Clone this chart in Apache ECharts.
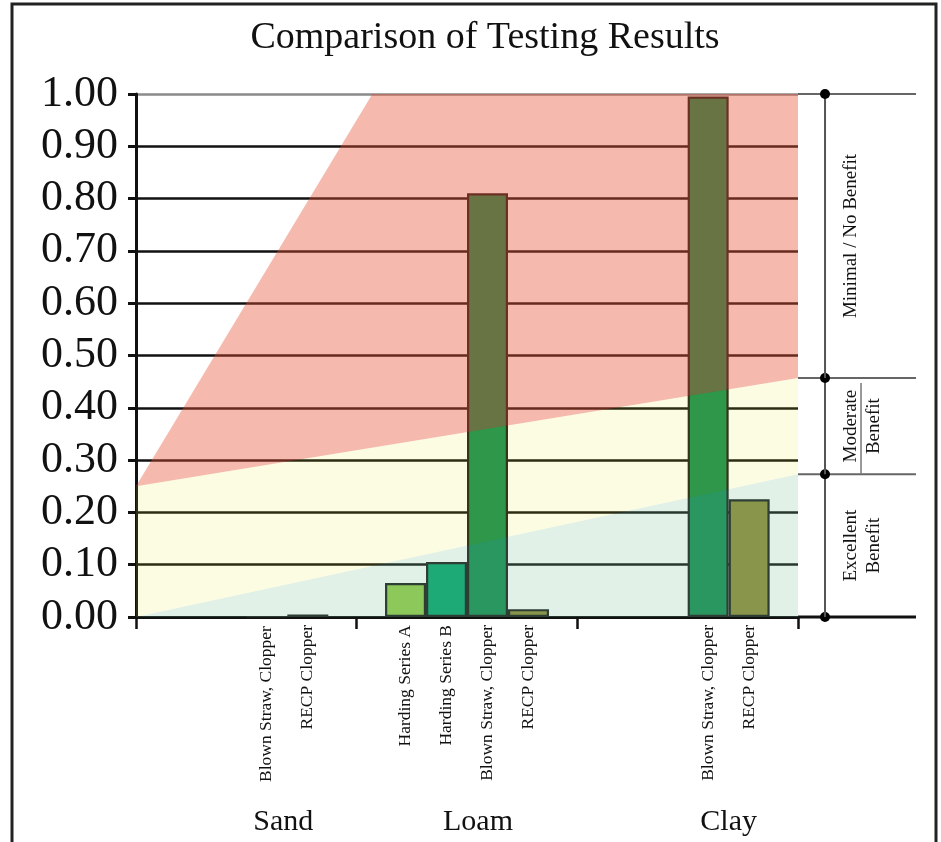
<!DOCTYPE html>
<html>
<head>
<meta charset="utf-8">
<script src="https://cdn.jsdelivr.net/npm/echarts@6/dist/echarts.min.js"></script>
<style>
html,body{margin:0;padding:0;background:#fff;}
#chart{width:941px;height:842px;}
</style>
</head>
<body>
<div id="chart"></div>
<script>
// ---- data ----
const categories = ['Sand', 'Loam', 'Clay'];
const seriesNames = ['Harding Series A', 'Harding Series B', 'Blown Straw, Clopper', 'RECP Clopper'];
const hardingA = ['-', 0.065, '-'];
const hardingB = ['-', 0.105, '-'];
const blownStraw = [0, 0.81, 0.995];
const recpClopper = [0.005, 0.015, 0.225];

// zone boundaries across the plot (x: 0 = left edge, 1 = right edge)
const plotBottom = [[0, 0], [1, 0]];
const excellentEdge = [[0, 0], [1, 0.273]];
const moderateEdge = [[0, 0.25], [1, 0.457]];
const minimalEdge = [[0, 0.25], [0.357, 1.0], [1, 1.0]];

// benefit scale on the right
const benefitBounds = [0, 0.273, 0.457, 1.0];
const benefitLabels = ['Excellent\nBenefit', 'Moderate\nBenefit', 'Minimal / No Benefit'];

// ---- build ----
const FONT = '"Liberation Serif", "Times New Roman", serif';
const zonePolys = [
  plotBottom.concat(excellentEdge.slice().reverse()),
  excellentEdge.concat(moderateEdge.slice().reverse()),
  moderateEdge.concat(minimalEdge.slice().reverse())
];
const zoneColors = ['rgba(120,190,150,0.22)', 'rgba(235,230,40,0.13)', 'rgba(232,80,50,0.40)'];
const barColors = ['#92cb49', '#05a46f', '#148c50', '#8f8a35'];
const catShift = [74, 22, 82];

function barSeries(name, data, color) {
  return {
    type: 'bar', name: name, data: data, xAxisIndex: 0, yAxisIndex: 0,
    barGap: '0%', barCategoryGap: '25.7%',
    itemStyle: { color: color, borderColor: '#1a1a1a', borderWidth: 2.2 },
    label: {
      show: true, position: 'bottom', distance: 8, rotate: 90,
      align: 'right', verticalAlign: 'middle',
      formatter: '{a}', fontFamily: FONT, fontSize: 17.5, color: '#111'
    },
    silent: true
  };
}

const chart = echarts.init(document.getElementById('chart'), null, { renderer: 'canvas' });
const option = {
  animation: false,
  backgroundColor: '#fff',
  title: {
    text: 'Comparison of Testing Results',
    left: 480, top: 14, textAlign: 'center',
    textStyle: { fontFamily: FONT, fontSize: 38, fontWeight: 'normal', color: '#111' }
  },
  graphic: [{
    type: 'rect', shape: { x: 12, y: 4, width: 924, height: 860 },
    style: { fill: 'none', stroke: '#222', lineWidth: 3 }, silent: true, z: 100
  }],
  grid: [
    { left: 136, right: 143, top: 94, bottom: 225 },
    { left: 798, right: 25, top: 94, bottom: 225 }
  ],
  xAxis: [
    {
      type: 'category', data: categories, gridIndex: 0,
      axisLine: { lineStyle: { color: '#111', width: 3 } },
      axisTick: { show: true, length: 12, lineStyle: { color: '#111', width: 2.5 } },
      axisLabel: {
        margin: 190, fontFamily: FONT, fontSize: 30, color: '#111',
        formatter: (v, i) => '{c' + i + '|' + v + '}',
        rich: {
          c0: { padding: [0, 0, 0, catShift[0]], fontFamily: FONT, fontSize: 30, color: '#111' },
          c1: { padding: [0, 0, 0, catShift[1]], fontFamily: FONT, fontSize: 30, color: '#111' },
          c2: { padding: [0, 0, 0, catShift[2]], fontFamily: FONT, fontSize: 30, color: '#111' }
        }
      },
      splitLine: { show: false }
    },
    { type: 'value', gridIndex: 0, min: 0, max: 1, show: false },
    { type: 'value', gridIndex: 1, min: 0, max: 1, show: false }
  ],
  yAxis: [
    {
      type: 'value', gridIndex: 0, min: 0, max: 1, interval: 0.1,
      axisLine: { show: true, lineStyle: { color: '#111', width: 3 } },
      axisTick: { show: true, length: 8, lineStyle: { color: '#111', width: 3 } },
      axisLabel: {
        margin: 18, fontFamily: FONT, fontSize: 44, color: '#111',
        formatter: v => v.toFixed(2)
      },
      splitLine: {
        show: true,
        lineStyle: {
          width: 2.5,
          color: ['#111', '#111', '#111', '#111', '#111', '#111', '#111', '#111', '#111', '#111', '#8a8a8a']
        }
      }
    },
    { type: 'value', gridIndex: 1, min: 0, max: 1, show: false }
  ],
  series: [
    barSeries(seriesNames[0], hardingA, barColors[0]),
    barSeries(seriesNames[1], hardingB, barColors[1]),
    barSeries(seriesNames[2], blownStraw, barColors[2]),
    barSeries(seriesNames[3], recpClopper, barColors[3]),
    {
      type: 'custom', xAxisIndex: 1, yAxisIndex: 0, z: 5, silent: true,
      data: [0, 1, 2],
      renderItem: function (params, api) {
        const i = api.value(0);
        return {
          type: 'polygon',
          shape: { points: zonePolys[i].map(p => api.coord(p)) },
          style: { fill: zoneColors[i] }
        };
      }
    },
    {
      type: 'custom', xAxisIndex: 2, yAxisIndex: 1, z: 6, silent: true,
      data: benefitBounds.map((b, i) => [i, b]),
      renderItem: function (params, api) {
        const i = api.value(0);
        const b = api.value(1);
        const children = [];
        const left = api.coord([0, b]);
        const right = api.coord([1, b]);
        const isBottom = (i === 0);
        children.push({
          type: 'line',
          shape: { x1: left[0], y1: left[1], x2: right[0], y2: right[1] },
          style: { stroke: isBottom ? '#111' : '#666', lineWidth: isBottom ? 3 : 2 }
        });
        const dot = api.coord([0.229, b]);
        children.push({ type: 'circle', shape: { cx: dot[0], cy: dot[1], r: 5 }, style: { fill: '#000' } });
        if (i < benefitBounds.length - 1) {
          const nb = benefitBounds[i + 1];
          const p0 = api.coord([0.229, b]);
          const p1 = api.coord([0.229, nb]);
          children.push({
            type: 'line', shape: { x1: p0[0], y1: p0[1], x2: p1[0], y2: p1[1] },
            style: { stroke: '#555', lineWidth: 2 }
          });
          const mid = api.coord([0.356, (b + nb) / 2]);
          children.push({
            type: 'text', x: mid[0], y: mid[1], rotation: Math.PI / 2,
            style: {
              text: benefitLabels[i], fill: '#111', font: '19px ' + FONT,
              align: 'center', verticalAlign: 'top', lineHeight: 23
            }
          });
          if (benefitLabels[i].indexOf('Moderate') === 0) {
            const s0 = api.coord([0.534, b]);
            const s1 = api.coord([0.534, nb]);
            children.push({
              type: 'line', shape: { x1: s0[0], y1: s0[1] - 1, x2: s1[0], y2: s1[1] + 5 },
              style: { stroke: '#555', lineWidth: 1.2 }
            });
          }
        }
        return { type: 'group', children: children };
      }
    }
  ]
};
chart.setOption(option);
</script>
</body>
</html>
